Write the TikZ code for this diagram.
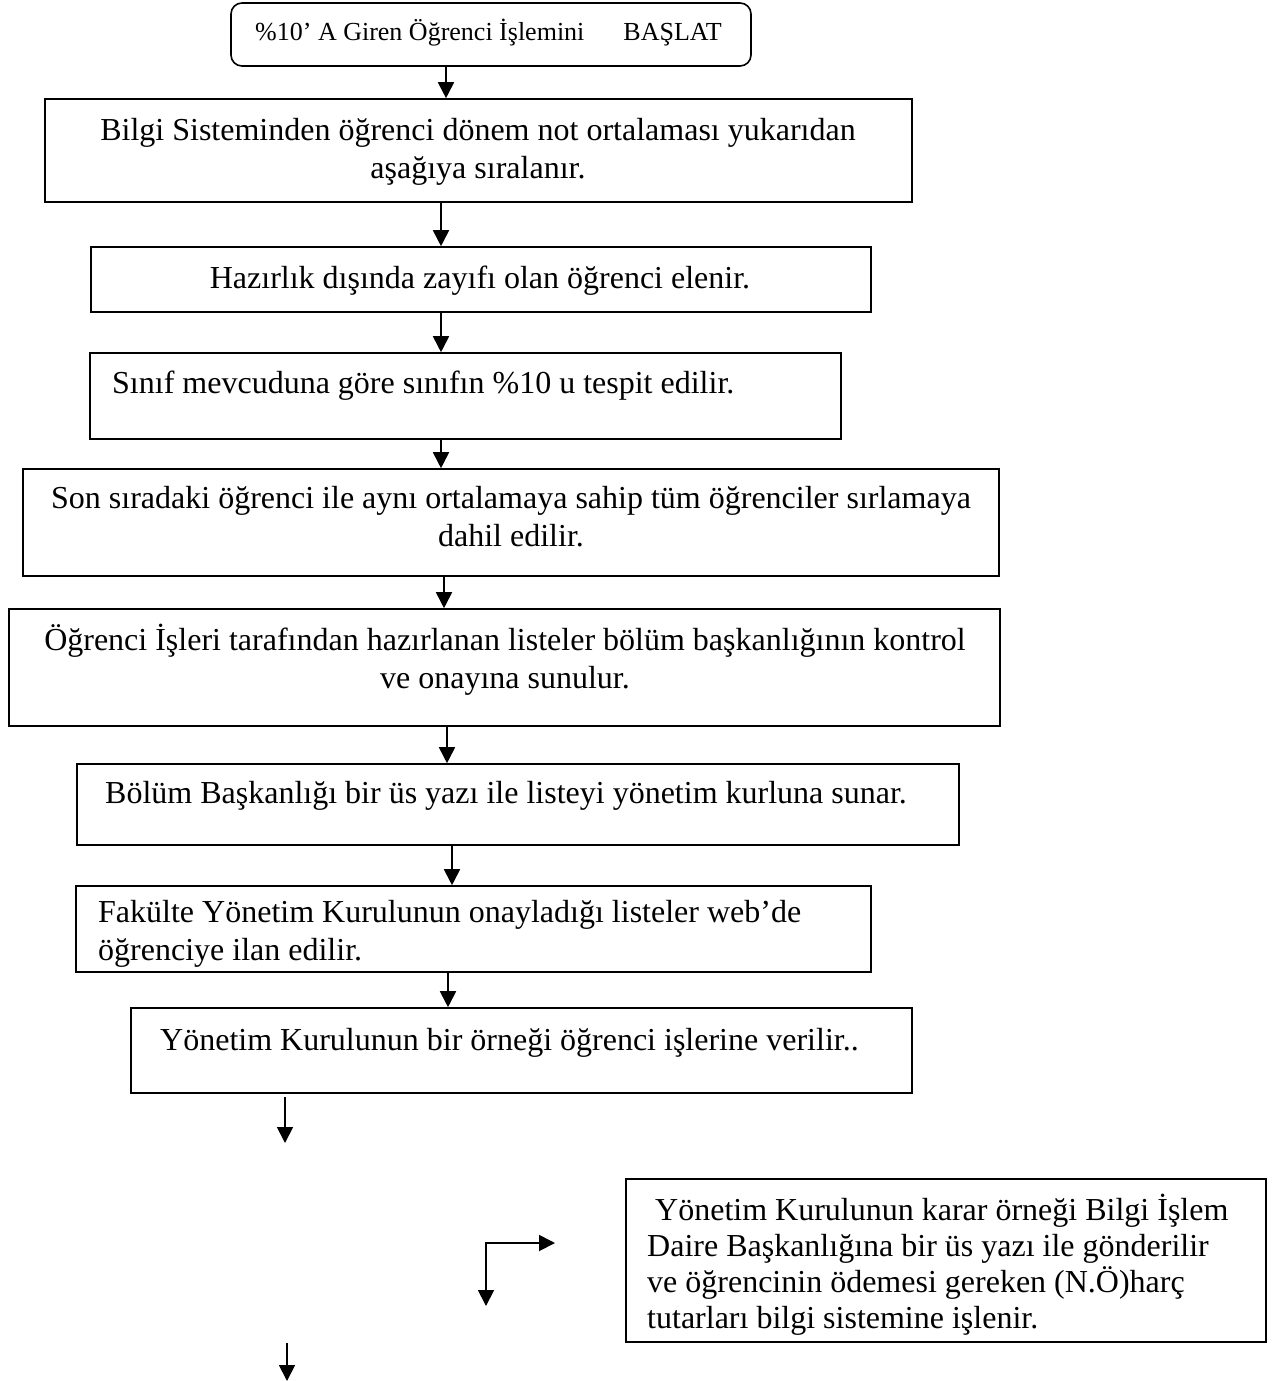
\documentclass[tikz,border=0pt]{standalone}
\usepackage{fontspec}
\setmainfont{Liberation Serif}
\usetikzlibrary{arrows.meta}
\newcommand{\hstr}{\rule{0pt}{30pt}}
\begin{document}
\begin{tikzpicture}[x=1pt,y=-1pt,
  box/.style={draw=black,line width=1.6pt,rectangle,inner sep=0pt},
  startbox/.style={box,rounded corners=11pt},
  txt/.style={inner sep=0pt,font=\fontsize{32}{38.5}\selectfont},
  ctxt/.style={txt,align=center,anchor=north},
  ltxt/.style={txt,align=left,anchor=north west},
  arr/.style={line width=1.8pt,-{Triangle[width=16pt,length=16pt]}}]
\useasboundingbox (0,0) rectangle (1283,1381);

% process boxes
\node[startbox,minimum width=520,minimum height=63] (s) at (491,34.5) {};
\node[box,minimum width=867,minimum height=103] (b2) at (478.5,150.5) {};
\node[box,minimum width=780,minimum height=65] (b3) at (481,279.5) {};
\node[box,minimum width=751,minimum height=86] (b4) at (465.5,396) {};
\node[box,minimum width=976,minimum height=107] (b5) at (511,522.5) {};
\node[box,minimum width=991,minimum height=117] (b6) at (504.5,667.5) {};
\node[box,minimum width=882,minimum height=81] (b7) at (518,804.5) {};
\node[box,minimum width=795,minimum height=86] (b8) at (473.5,929) {};
\node[box,minimum width=781,minimum height=85] (b9) at (521.5,1050.5) {};
\node[box,minimum width=640,minimum height=163] (b10) at (946,1260.5) {};

% texts
\node[txt,anchor=base west,font=\fontsize{26}{31}\selectfont] (ts) at (255,41)
  {\%10’ A Giren Öğrenci İşlemini\ \ \ \ \ \ BAŞLAT};
\node[ctxt] (t2) at (478,110)
  {\hstr Bilgi Sisteminden öğrenci dönem not ortalaması yukarıdan\\aşağıya sıralanır.};
\node[ctxt] (t3) at (480,258) {\hstr Hazırlık dışında zayıfı olan öğrenci elenir.};
\node[ltxt] (t4) at (112,363) {\hstr Sınıf mevcuduna göre sınıfın \%10 u tespit edilir.};
\node[ctxt] (t5) at (511,478)
  {\hstr Son sıradaki öğrenci ile aynı ortalamaya sahip tüm öğrenciler sırlamaya\\dahil edilir.};
\node[ctxt] (t6) at (505,620)
  {\hstr Öğrenci İşleri tarafından hazırlanan listeler bölüm başkanlığının kontrol\\ve onayına sunulur.};
\node[ltxt] (t7) at (105,773) {\hstr Bölüm Başkanlığı bir üs yazı ile listeyi yönetim kurluna sunar.};
\node[ltxt] (t8) at (98,892)
  {\hstr Fakülte Yönetim Kurulunun onayladığı listeler web’de\\öğrenciye ilan edilir.};
\node[ltxt] (t9) at (160,1020) {\hstr Yönetim Kurulunun bir örneği öğrenci işlerine verilir..};
\node[ltxt,font=\fontsize{32}{36}\selectfont] (t10) at (647,1190)
  {\hstr\ Yönetim Kurulunun karar örneği Bilgi İşlem\\Daire Başkanlığına bir üs yazı ile gönderilir\\ve öğrencinin ödemesi gereken (N.Ö)harç\\tutarları bilgi sistemine işlenir.};

% connector columns
\coordinate (c1) at (446,0);
\coordinate (c2) at (441,0);
\coordinate (c5) at (444,0);
\coordinate (c6) at (447,0);
\coordinate (c7) at (452,0);
\coordinate (c8) at (448,0);

\draw[arr] (s.south -| c1) -- (b2.north -| c1);
\draw[arr] (b2.south -| c2) -- (b3.north -| c2);
\draw[arr] (b3.south -| c2) -- (b4.north -| c2);
\draw[arr] (b4.south -| c2) -- (b5.north -| c2);
\draw[arr] (b5.south -| c5) -- (b6.north -| c5);
\draw[arr] (b6.south -| c6) -- (b7.north -| c6);
\draw[arr] (b7.south -| c7) -- (b8.north -| c7);
\draw[arr] (b8.south -| c8) -- (b9.north -| c8);

% loose arrows below the last box
\coordinate (f1a) at (285,1097);
\coordinate (f1b) at (285,1143);
\draw[arr] (f1a) -- (f1b);
\coordinate (la) at (486,1306);
\coordinate (lb) at (555,1243);
\draw[line width=1.8pt,{Triangle[width=16pt,length=16pt]}-{Triangle[width=16pt,length=16pt]}] (la) |- (lb);
\coordinate (f2a) at (287,1343);
\coordinate (f2b) at (287,1381);
\draw[arr] (f2a) -- (f2b);
\end{tikzpicture}
\end{document}
